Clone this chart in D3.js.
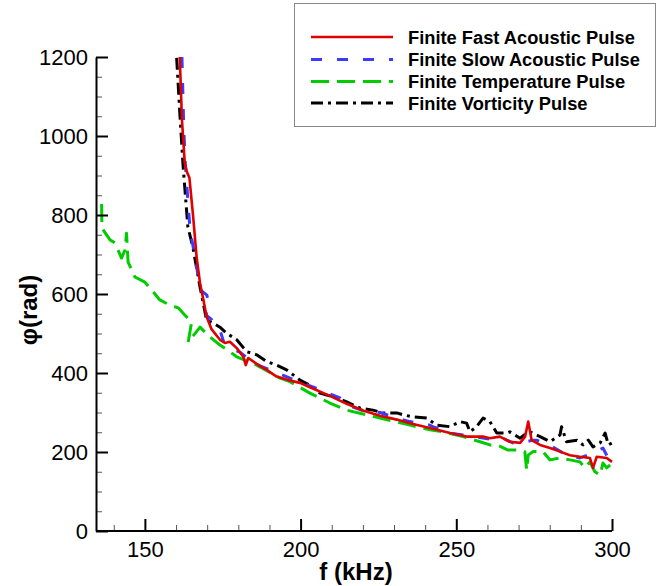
<!DOCTYPE html>
<html>
<head>
<meta charset="utf-8">
<script src="https://cdn.jsdelivr.net/npm/d3@7"></script>
<style>
  body { margin: 0; background: #fff; }
  svg { display: block; font-family: "Liberation Sans", Arial, sans-serif; }
</style>
</head>
<body>
<div id="chart"></div>
<script>
// phase vs frequency for four finite pulses
const fastF = [161.2,161.9,162.8,163.5,164.3,165.5,166.6,167.7,168.8,169.8,171.4,174.1,175.7,177.3,179.5,181.6,182.4,183.2,185.9,189.1,192.3,196.0,199.8,203.0,209.4,214.8,220.0,225.5,230.9,235.1,241.5,248.0,253.3,258.6,260.8,264.0,267.2,270.5,272.1,273.1,274.2,276.9,280.1,283.3,286.5,289.7,292.9,293.9,295.1,298.3,300.0];
const fastPhi = [1200,1041,932,909,894,796,694,628,585,543,511,484,476,479,463,441,420,438,423,408,391,382,375,364,342,322,305,292,282,273,261,248,239,239,235,239,226,223,239,277,230,218,210,201,192,188,185,160,188,185,175];

const slowF = [161.9,162.5,163.0,163.8,164.5,166.1,167.0,167.9,169.9,170.6,169.6,170.9,172.2,174.1,175.4,177.3,180.5,183.7,186.9,191.8,196.6,200.5,206.0,212.6,214.8,220.0,225.5,230.0,235.1,241.5,242.5,248.0,255.4,263.0,265.0,266.2,268.2,272.6,274.6,275.8,277.8,281.0,285.4,289.7,293.9,297.1,299.4];
const slowPhi = [1200,1015,927,838,762,694,650,610,597,572,547,539,529,509,476,463,453,433,418,403,387,375,358,337,319,305,300,288,277,268,264,248,239,230,235,230,223,226,230,230,223,213,192,185,197,210,175];

const tempF = [136.1,136.2,138.8,140.4,142.5,143.6,144.1,144.6,146.8,150.0,152.7,154.8,158.0,160.7,162.8,164.4,165.0,163.9,167.7,170.9,174.1,176.2,179.5,185.9,193.4,196.6,203.0,209.4,214.8,221.2,225.5,230.9,235.1,241.5,245.7,252.2,257.6,260.8,263.0,266.6,270.5,272.0,272.6,273.1,274.6,277.8,280.1,283.3,286.5,289.7,291.3,292.9,294.5,296.2,297.1,298.3,299.4];
const tempPhi = [828,767,737,729,691,711,754,681,643,630,605,585,572,565,547,534,529,478,516,491,471,460,441,420,387,378,349,324,306,294,286,276,268,256,251,239,226,218,218,205,205,201,154,192,201,201,180,185,180,175,160,175,150,142,172,160,167];

const vortF = [160.2,161.2,162.2,163.0,163.8,165.4,167.7,169.8,171.8,174.1,176.2,179.5,182.7,185.9,189.1,192.3,195.5,199.8,204.0,206.2,210.4,214.8,219.1,223.2,226.5,230.9,232.9,236.1,240.5,243.7,248.0,251.2,253.3,254.4,256.5,258.6,260.8,263.0,266.2,267.2,270.5,272.6,273.7,276.9,280.1,283.3,283.8,285.4,288.7,290.7,292.4,293.9,296.2,297.8,298.8,300.0];
const vortPhi = [1198,1060,932,850,770,719,618,534,527,516,501,484,454,446,429,420,408,382,365,349,340,327,311,306,299,299,294,289,286,268,264,277,273,251,264,286,277,248,248,251,235,248,251,239,226,243,264,226,230,218,230,213,223,248,218,223];

const seriesNames = ["Finite Fast Acoustic Pulse", "Finite Slow Acoustic Pulse", "Finite Temperature Pulse", "Finite Vorticity Pulse"];
const xMajor = [150, 200, 250, 300];
const yMajor = [0, 200, 400, 600, 800, 1000, 1200];

const styles = [
  { color: "#e00000", width: 2.6, dash: null },
  { color: "#3b3bff", width: 3, dash: "11,15" },
  { color: "#00cc00", width: 3, dash: "18,8" },
  { color: "#000000", width: 3, dash: "12,5,3,5" }
];

const W = 657, H = 586;
const svg = d3.select("#chart").append("svg").attr("width", W).attr("height", H);

const x = d3.scaleLinear().domain([134.3, 300]).range([96, 612]);
const y = d3.scaleLinear().domain([0, 1200]).range([531, 57]);

const series = [
  d3.zip(fastF, fastPhi),
  d3.zip(slowF, slowPhi),
  d3.zip(tempF, tempPhi),
  d3.zip(vortF, vortPhi)
];

svg.append("clipPath").attr("id", "plotclip")
  .append("rect").attr("x", 96).attr("y", 56).attr("width", 520).attr("height", 476);

const line = d3.line().x(d => x(d[0])).y(d => y(d[1]));

// draw order: temperature, vorticity, slow, fast on top
const order = [2, 3, 1, 0];
svg.append("g").attr("clip-path", "url(#plotclip)")
  .selectAll("path")
  .data(order)
  .join("path")
  .attr("d", i => line(series[i]))
  .attr("fill", "none")
  .attr("stroke", i => styles[i].color)
  .attr("stroke-width", i => styles[i].width)
  .attr("stroke-dasharray", i => styles[i].dash)
  .attr("stroke-linejoin", "round");

// minor ticks
const xMinor = d3.range(140, 301, 10).filter(v => !xMajor.includes(v));
const yMinor = d3.range(0, 1201, 50).filter(v => !yMajor.includes(v));

svg.append("g").attr("transform", "translate(0,531)")
  .call(d3.axisBottom(x).tickValues(xMinor).tickSizeInner(-6).tickSizeOuter(0).tickFormat(""))
  .call(g => g.select(".domain").remove())
  .call(g => g.selectAll("line").attr("stroke", "#555").attr("stroke-width", 1));

svg.append("g").attr("transform", "translate(96,0)")
  .call(d3.axisLeft(y).tickValues(yMinor).tickSizeInner(-6).tickSizeOuter(0).tickFormat(""))
  .call(g => g.select(".domain").remove())
  .call(g => g.selectAll("line").attr("stroke", "#555").attr("stroke-width", 1));

// major axes
const xAxis = svg.append("g").attr("transform", "translate(0,531)")
  .call(d3.axisBottom(x).tickValues(xMajor).tickFormat(d3.format("d")).tickSizeInner(-12).tickSizeOuter(0).tickPadding(10));
xAxis.select(".domain").attr("d", `M${x.range()[0]},0H${x(300)}`).attr("stroke-width", 2);
xAxis.selectAll("line").attr("stroke-width", 2);
xAxis.selectAll("text").attr("font-size", 22).attr("fill", "#000").attr("font-family", null);

const yAxis = svg.append("g").attr("transform", "translate(96,0)")
  .call(d3.axisLeft(y).tickValues(yMajor).tickFormat(d3.format("d")).tickSizeInner(-12).tickSizeOuter(0).tickPadding(8));
yAxis.select(".domain").attr("stroke-width", 2);
yAxis.selectAll("line").attr("stroke-width", 2);
yAxis.selectAll("text").attr("font-size", 22).attr("fill", "#000").attr("font-family", null);

// axis titles
svg.append("text")
  .attr("x", 356).attr("y", 580)
  .attr("text-anchor", "middle")
  .attr("font-size", 24).attr("font-weight", "bold")
  .text("f (kHz)");

svg.append("text")
  .attr("transform", "translate(37,310) rotate(-90)")
  .attr("text-anchor", "middle")
  .attr("font-size", 24).attr("font-weight", "bold")
  .text("φ(rad)");

// legend
const legend = svg.append("g");
legend.append("rect")
  .attr("x", 294.5).attr("y", 3.5).attr("width", 361).attr("height", 123)
  .attr("fill", "#fff").attr("stroke", "#888").attr("stroke-width", 1);

const rowY = [37, 59.5, 81.5, 103];
const item = legend.selectAll("g.item")
  .data(seriesNames)
  .join("g").attr("class", "item")
  .attr("transform", (d, i) => `translate(0,${rowY[i]})`);

item.append("line")
  .attr("x1", 311).attr("x2", 393)
  .attr("stroke", (d, i) => styles[i].color)
  .attr("stroke-width", (d, i) => styles[i].width)
  .attr("stroke-dasharray", (d, i) => styles[i].dash);

item.append("text")
  .attr("x", 408).attr("y", 6.5)
  .attr("font-size", 18.3).attr("font-weight", "bold")
  .text(d => d);
</script>
</body>
</html>
